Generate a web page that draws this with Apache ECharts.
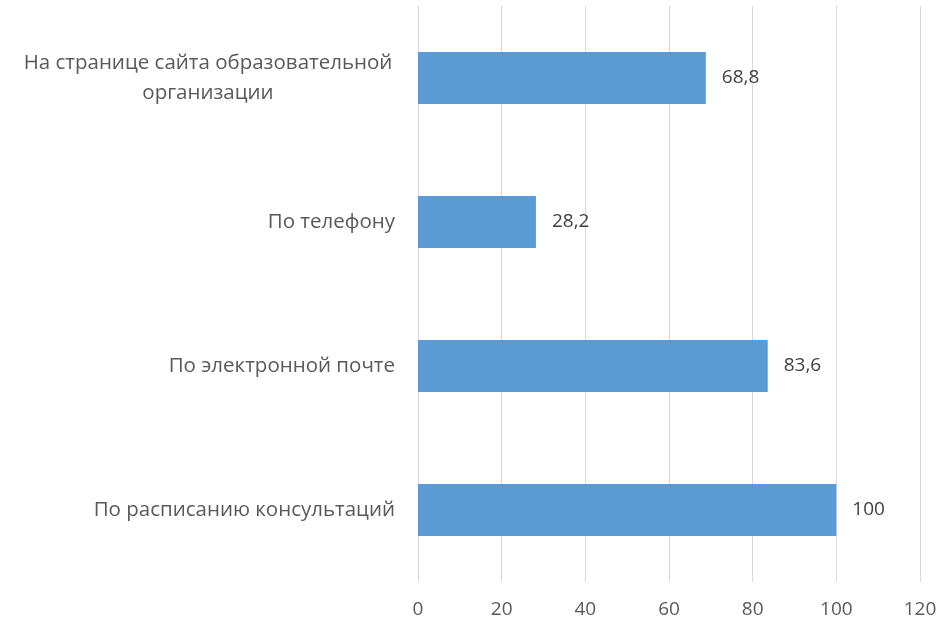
<!DOCTYPE html>
<html>
<head>
<meta charset="utf-8">
<script src="https://cdn.jsdelivr.net/npm/echarts@6/dist/echarts.min.js"></script>
<style>
  html, body { margin: 0; padding: 0; background: #fff; }
  #chart { width: 942px; height: 620px; }
</style>
</head>
<body>
<div id="chart"></div>
<script>
// категории сверху вниз
const categories = [
  "На странице сайта образовательной\nорганизации",
  "По телефону",
  "По электронной почте",
  "По расписанию консультаций"
];
const values = [68.8, 28.2, 83.6, 100];
const xTicks = { min: 0, max: 120, interval: 20 };

const chart = echarts.init(document.getElementById("chart"));
const font = "'Open Sans', 'Noto Sans', sans-serif";

chart.setOption({
  animation: false,
  grid: { left: 418, right: 22, top: 6, bottom: 38 },
  xAxis: {
    type: "value",
    min: xTicks.min,
    max: xTicks.max,
    interval: xTicks.interval,
    axisLine: { show: false },
    axisTick: { show: false },
    splitLine: { lineStyle: { color: "#d9d9d9", width: 1 } },
    axisLabel: { color: "#595959", fontSize: 19, fontFamily: font, margin: 18 }
  },
  yAxis: {
    type: "category",
    inverse: true,
    data: categories,
    axisLine: { show: false },
    axisTick: { show: false },
    axisLabel: {
      color: "#595959",
      fontSize: 20.5,
      fontFamily: font,
      margin: 23,
      formatter: function (v) {
        // многострочную подпись центрируем
        if (v.indexOf("\n") >= 0) {
          return v.split("\n").map(s => "{w|" + s + "}").join("\n");
        }
        return v;
      },
      rich: {
        w: { width: 374, align: "center", lineHeight: 30, fontSize: 20.5, color: "#595959", fontFamily: font }
      }
    }
  },
  series: [{
    type: "bar",
    data: values,
    barWidth: 52,
    itemStyle: { color: "#5b9bd5" },
    label: {
      show: true,
      position: "right",
      distance: 16,
      color: "#404040",
      fontSize: 19,
      fontFamily: font,
      formatter: p => String(p.value).replace(".", ",")
    }
  }]
});
</script>
</body>
</html>
